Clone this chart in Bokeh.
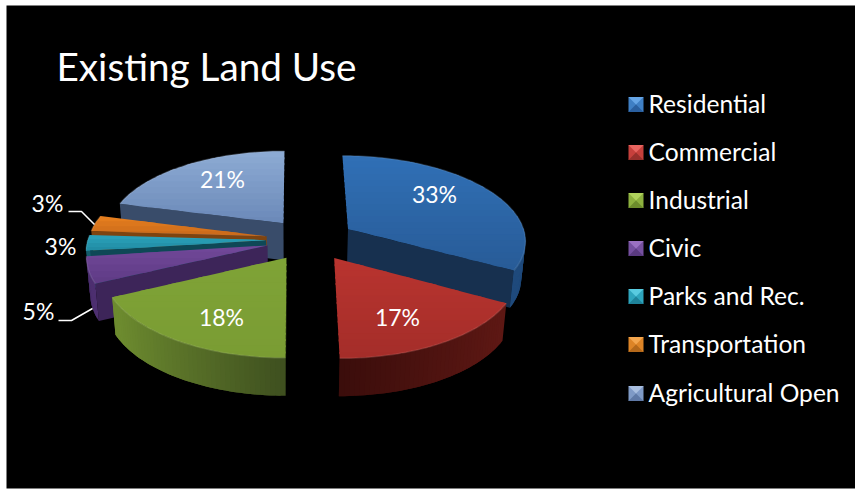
import math
from bokeh.core.properties import value
from bokeh.embed import file_html
from bokeh.models import Range1d
from bokeh.plotting import figure
from bokeh.resources import INLINE

# Land use shares
categories = ["Residential", "Commercial", "Industrial", "Civic",
              "Parks and Rec.", "Transportation", "Agricultural Open"]
shares = [33, 17, 18, 5, 3, 3, 21]
share_labels = ["33%", "17%", "18%", "5%", "3%", "3%", "21%"]
title_text = "Existing Land Use"

# top-light, top-dark, cut face, wall-light, wall-dark per slice
palette = [
    ("#3070b6", "#285b97", "#17304f", "#1f4a7c", "#1a3c66"),
    ("#b9342f", "#a42d29", "#3a0e0c", "#5e1814", "#3a0d0b"),
    ("#7fa337", "#7a9c33", "#3d4f1c", "#6d8b2f", "#3e4f1f"),
    ("#72489a", "#5e3b84", "#3d2559", "#4d2f70", "#3d2559"),
    ("#2ca3bb", "#1f8aa2", "#0e4856", "#145c6c", "#0e4856"),
    ("#e8801f", "#c9691a", "#7e4410", "#8e4c12", "#7e4410"),
    ("#8dabd4", "#6b89b8", "#394c6a", "#4a6186", "#394c6a"),
]
legend_tones = [
    ("#66a5e6", "#3f7fc4", "#2a5f9f"), ("#e86560", "#c6403c", "#98302c"),
    ("#b0d35c", "#8db13f", "#6c8c2c"), ("#9a70c2", "#7650a0", "#5a3a80"),
    ("#58cbe0", "#2ea5bd", "#1e8299"), ("#f4a64e", "#dd8426", "#b4681a"),
    ("#a9bfe0", "#7f9ac6", "#5f79a6"),
]

# Projection of the pie plane onto the page
CX, CY = 310.0, 239.0
VANISH_X = 293.0
RX, RY = 178.0, 84.0
PERSPECTIVE = 0.116
EXPLODE = 0.25
DEPTH = 37.0
FLOOR_SHRINK = 0.018


def project(wx, wy, drop=0.0):
    s = 1.0 / (1.0 - PERSPECTIVE * wy)
    x = VANISH_X + (CX - VANISH_X + wx * RX) * s
    x = VANISH_X + (x - VANISH_X) * (1 - FLOOR_SHRINK * drop)
    return x, CY + wy * RY * s + drop * DEPTH * s ** 0.15


def hex_rgb(c):
    return tuple(int(c[i:i + 2], 16) for i in (1, 3, 5))


def mix(a, b, t):
    t = max(0.0, min(1.0, t))
    ra, rb = hex_rgb(a), hex_rgb(b)
    return "#%02x%02x%02x" % tuple(round(x + (y - x) * t) for x, y in zip(ra, rb))


def clip_band(poly, y0, y1):
    def clip(points, keep, cut):
        out = []
        for i, a in enumerate(points):
            b = points[(i + 1) % len(points)]
            if keep(a):
                out.append(a)
            if keep(a) != keep(b):
                out.append(cut(a, b))
        return out

    def at(level):
        return lambda a, b: (a[0] + (b[0] - a[0]) * (level - a[1]) / (b[1] - a[1]), level)

    poly = clip(poly, lambda q: q[1] >= y0, at(y0))
    if poly:
        poly = clip(poly, lambda q: q[1] <= y1, at(y1))
    return poly


p = figure(width=855, height=489, output_backend="svg", toolbar_location=None,
           x_range=Range1d(0, 855), y_range=Range1d(489, 0),
           min_border=0, outline_line_color=None,
           background_fill_color="white", border_fill_color="white")
p.axis.visible = False
p.grid.visible = False

# Slide background
p.quad(left=[6], right=[855], top=[5], bottom=[488], fill_color="black", line_color=None)

total = sum(shares)
angles = [0.0]
for v in shares:
    angles.append(angles[-1] + 2 * math.pi * v / total)


def solid(i):
    t0, t1 = angles[i], angles[i + 1]
    mid = (t0 + t1) / 2
    ox, oy = EXPLODE * math.sin(mid), -EXPLODE * math.cos(mid)
    n = max(6, int((t1 - t0) * 40))
    ts = [t0 + (t1 - t0) * k / n for k in range(n + 1)]
    rim = [(ox + math.sin(t), oy - math.cos(t)) for t in ts]
    return (ox, oy), rim, ts


def draw_slice(i):
    top_a, top_b, cut, wall_a, wall_b = palette[i]
    apex, rim, ts = solid(i)
    t0, t1 = angles[i], angles[i + 1]

    def face(run, color):
        upper = [project(*w) for w in run]
        lower = [project(*w, 1) for w in reversed(run)]
        pts = upper + lower
        p.patch([q[0] for q in pts], [q[1] for q in pts],
                fill_color=color, line_color=None)

    if math.sin(t0) < 0:
        face([apex, rim[0]], cut)
    if math.sin(t1) > 0:
        face([apex, rim[-1]], cut)

    # Outer wall, only where it turns towards the viewer; each step overlaps the next
    for k in range(len(ts) - 1):
        tm = (ts[k] + ts[k + 1]) / 2
        if math.cos(tm) < 0.02:
            face(rim[k:k + 3], mix(wall_b, wall_a, abs(math.sin(tm)) * 1.15))

    # Top surface with a vertical shading in thin overlapping bands
    outline = [project(*apex)] + [project(*q) for q in rim]
    ys = [q[1] for q in outline]
    y_min, y_max = min(ys), max(ys)
    bands = max(4, int((y_max - y_min) / 6))
    for b in range(bands):
        y0 = y_min + (y_max - y_min) * b / bands
        y1 = y_min + (y_max - y_min) * (b + 1) / bands
        piece = clip_band(outline, y0, y1 + 2.0)
        if len(piece) >= 3:
            color = mix(top_a, top_b, (b + 0.5) / bands)
            p.patch([q[0] for q in piece], [q[1] for q in piece],
                    fill_color=color, line_color=None)

    # Soft bevel along the rim
    p.line([q[0] for q in outline[1:]], [q[1] for q in outline[1:]],
           line_color=mix(top_a, "#ffffff", 0.35), line_alpha=0.25, line_width=1.5)


# Painter's order: back slices first, those nearest the viewer last
for i in [6, 5, 4, 3, 0, 2, 1]:
    draw_slice(i)

# Leader lines for the outside labels
p.line([68, 81, 94], [211, 211, 224], line_color="white", line_width=1.5)
p.line([58, 71, 92], [320, 320, 308], line_color="white", line_width=1.5)

# Value labels
label_x = [434, 397, 221, 38, 60, 47, 222]
label_y = [193, 316, 316, 310, 245, 202, 178]
p.text(x=label_x, y=label_y, text=share_labels, text_color="white",
       text_font=value("Lato"), text_font_size=value("23px"),
       text_align="center", text_baseline="middle")

# Title
p.text(x=[56], y=[65], text=[title_text], text_color="white",
       text_font=value("Lato"), text_font_size=value("38.7px"),
       text_align="left", text_baseline="middle")

# Legend with bevelled keys
legend_y = [104, 152, 200, 248, 296, 344, 393]
for name, ly, (light, mid, dark) in zip(categories, legend_y, legend_tones):
    x0, x1, y0, y1 = 628, 643, ly - 7.5, ly + 7.5
    xm, ym = (x0 + x1) / 2, (y0 + y1) / 2
    p.quad(left=[x0], right=[x1], top=[y0], bottom=[y1], fill_color=mid, line_color=None)
    p.patch([x0, x1, xm], [y0, y0, ym], fill_color=light, line_color=None)
    p.patch([x0, x1, xm], [y1, y1, ym], fill_color=dark, line_color=None)
p.text(x=[648] * len(categories), y=[y - 1.5 for y in legend_y], text=categories, text_color="white",
       text_font=value("Lato"), text_font_size=value("24.6px"),
       text_align="left", text_baseline="middle")

open("out.html", "w").write(file_html(p, INLINE))
